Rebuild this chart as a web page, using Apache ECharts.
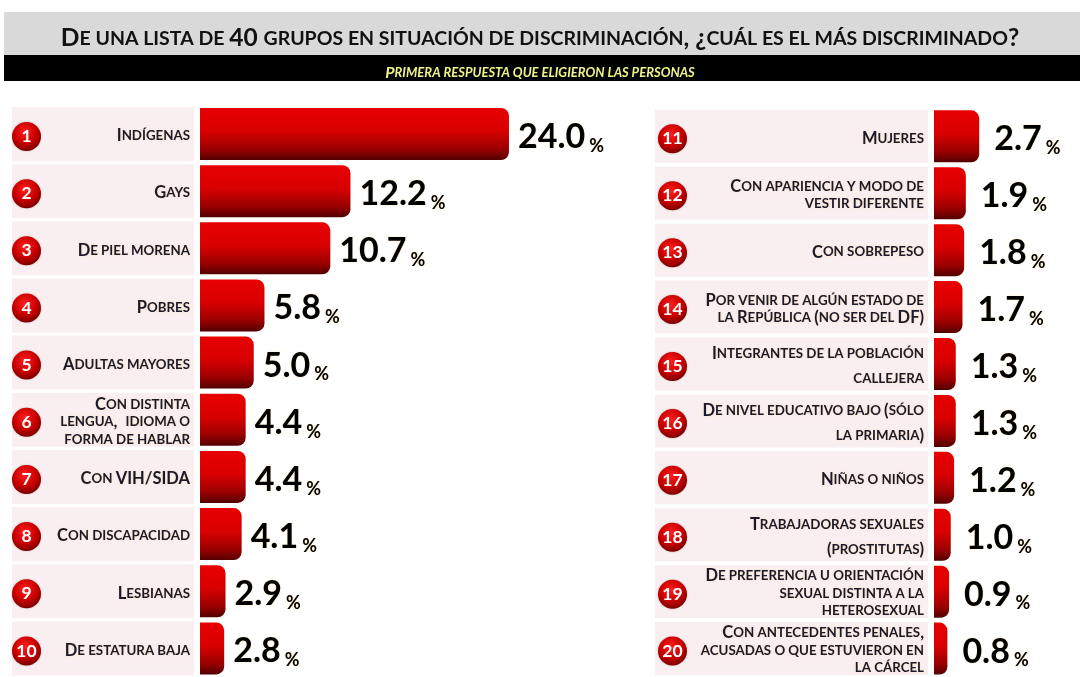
<!DOCTYPE html>
<html>
<head>
<meta charset="utf-8">
<script src="https://cdn.jsdelivr.net/npm/echarts@6/dist/echarts.min.js"></script>
<style>
html,body{margin:0;padding:0;background:#fff;}
#chart{width:1080px;height:677px;}
</style>
</head>
<body>
<div id="chart"></div>
<script>
// ---------- data ----------
const titleText = 'De una lista de 40 grupos en situación de discriminación, ¿cuál es el más discriminado?';
const subtitleText = 'Primera respuesta que eligieron las personas';

const leftRanks = ['1','2','3','4','5','6','7','8','9','10'];
const leftCats = [
  'Indígenas',
  'Gays',
  'De piel morena',
  'Pobres',
  'Adultas mayores',
  'Con distinta\nlengua,  idioma o\nforma de hablar',
  'Con VIH/SIDA',
  'Con discapacidad',
  'Lesbianas',
  'De estatura baja'
];
const leftVals = [24.0, 12.2, 10.7, 5.8, 5.0, 4.4, 4.4, 4.1, 2.9, 2.8];

const rightRanks = ['11','12','13','14','15','16','17','18','19','20'];
const rightCats = [
  'Mujeres',
  'Con apariencia y modo de\nvestir diferente',
  'Con sobrepeso',
  'Por venir de algún estado de\nla República (no ser del DF)',
  'Integrantes de la población\ncallejera',
  'De nivel educativo bajo (sólo\nla primaria)',
  'Niñas o niños',
  'Trabajadoras sexuales\n(prostitutas)',
  'De preferencia u orientación\nsexual distinta a la\nheterosexual',
  'Con antecedentes penales,\nacusadas o que estuvieron en\nla cárcel'
];
const rightVals = [2.7, 1.9, 1.8, 1.7, 1.3, 1.3, 1.2, 1.0, 0.9, 0.8];

// ---------- helpers ----------
function smallCaps(text, big, small) {
  return text.split('\n').map(function (line) {
    let out = '', cur = null, buf = '';
    for (const ch of line) {
      const isLower = ch !== ch.toUpperCase();
      let cls = isLower ? small : big;
      if (ch === ' ') cls = cur || big;
      if (cls !== cur && buf) { out += '{' + cur + '|' + buf + '}'; buf = ''; }
      cur = cls;
      buf += isLower ? ch.toUpperCase() : ch;
    }
    if (buf) out += '{' + cur + '|' + buf + '}';
    return out;
  }).join('\n');
}

const FONT = 'Lato, "Open Sans", sans-serif';
const TXT = '#1a1a2e';
const BAND = '#f9eef0';
const glow = { textShadowColor: 'rgba(255,210,120,0.55)', textShadowBlur: 2 };

const barGrad = {
  type: 'linear', x: 0, y: 0, x2: 0, y2: 1,
  colorStops: [
    { offset: 0, color: '#e80000' },
    { offset: 0.45, color: '#d80000' },
    { offset: 0.8, color: '#980000' },
    { offset: 1, color: '#520000' }
  ]
};
const badgeGrad = {
  type: 'radial', x: 0.45, y: 0.35, r: 0.75,
  colorStops: [
    { offset: 0, color: '#ff2020' },
    { offset: 0.5, color: '#cc0000' },
    { offset: 1, color: '#600000' }
  ]
};

function mkLabelRich(lh) {
  return {
    B: Object.assign({ fontSize: 16.5, fontWeight: 'bold', color: TXT, fontFamily: FONT, lineHeight: lh }, glow),
    s: Object.assign({ fontSize: 13.3, fontWeight: 'bold', color: TXT, fontFamily: FONT, lineHeight: lh }, glow),
    W: Object.assign({ fontSize: 16.5, fontWeight: 'bold', color: TXT, fontFamily: FONT, lineHeight: 25 }, glow),
    w: Object.assign({ fontSize: 13.3, fontWeight: 'bold', color: TXT, fontFamily: FONT, lineHeight: 25 }, glow)
  };
}
// rows (by index) whose two text lines are spread apart in the original
const spreadRowsRight = [4, 5, 7];

const valueRich = {
  n: Object.assign({ fontSize: 34, fontWeight: 'bold', color: '#000', fontFamily: FONT, lineHeight: 36 }, glow),
  p: Object.assign({ fontSize: 18, fontWeight: 'bold', color: '#000', fontFamily: FONT, lineHeight: 36, verticalAlign: 'bottom', padding: [0, 0, 0, 4] }, glow)
};

function badgeAxis(ranks, margin) {
  return {
    type: 'category', inverse: true, data: ranks, z: 10,
    axisLine: { show: false }, axisTick: { show: false }, splitLine: { show: false },
    axisLabel: {
      inside: true, margin: margin,
      formatter: function (v) { return '{sp| }\n{b|' + v + '}'; },
      rich: {
        sp: { fontSize: 4, lineHeight: 5, height: 5 },
        b: {
          width: 29, height: 29, borderRadius: 14.5, backgroundColor: badgeGrad,
          color: '#fff', fontSize: 17.5, fontWeight: 'bold', fontFamily: FONT, align: 'center',
          shadowColor: 'rgba(0,0,0,0.25)', shadowBlur: 2
        }
      }
    }
  };
}
function hiddenCat(ranks) {
  return { type: 'category', inverse: true, data: ranks, show: false };
}

function bandSeries(cats, xi, h, spread) {
  return {
    type: 'bar', xAxisIndex: xi, yAxisIndex: xi, silent: true,
    data: cats.map(function () { return 1; }),
    barWidth: h,
    itemStyle: { color: BAND },
    label: {
      show: true, position: 'insideRight', distance: 4, align: 'right', offset: [0, 2],
      formatter: function (p) {
        const wide = spread.indexOf(p.dataIndex) >= 0;
        return smallCaps(cats[p.dataIndex], wide ? 'W' : 'B', wide ? 'w' : 's');
      },
      rich: mkLabelRich(17.5)
    }
  };
}
function valueSeries(vals, xi, h, dist) {
  return {
    type: 'bar', xAxisIndex: xi, yAxisIndex: xi, silent: true, clip: true,
    data: vals,
    barWidth: h,
    itemStyle: { color: barGrad, borderRadius: [0, 8, 8, 0] },
    label: {
      show: true, position: 'right', distance: dist, offset: [0, 3],
      formatter: function (p) { return '{n|' + p.value.toFixed(1) + '}{p|%}'; },
      rich: valueRich
    }
  };
}

const chart = echarts.init(document.getElementById('chart'), null, { renderer: 'canvas' });
chart.setOption({
  animation: false,
  backgroundColor: '#fff',
  graphic: [
    { type: 'rect', shape: { x: 4, y: 12, width: 1076, height: 43 }, style: { fill: '#d9d9d9' }, z: -10 },
    { type: 'rect', shape: { x: 4, y: 55, width: 1076, height: 26 }, style: { fill: '#000' }, z: -10 }
  ],
  title: [
    {
      text: smallCaps(titleText, 'B', 's'), left: 'center', top: 21,
      textStyle: {
        rich: {
          B: { fontSize: 24.5, fontWeight: 'bold', color: '#111', fontFamily: FONT },
          s: { fontSize: 19.5, fontWeight: 'bold', color: '#111', fontFamily: FONT }
        }
      }
    },
    {
      text: smallCaps(subtitleText, 'B', 's'), left: 'center', top: 60,
      textStyle: {
        rich: {
          B: { fontSize: 16, fontWeight: 'bold', fontStyle: 'italic', color: '#eef28a', fontFamily: FONT },
          s: { fontSize: 13, fontWeight: 'bold', fontStyle: 'italic', color: '#eef28a', fontFamily: FONT }
        }
      }
    }
  ],
  grid: [
    { left: 12, top: 105.4, width: 182, height: 573 },
    { left: 200, top: 105.4, width: 403, height: 573 },
    { left: 655, top: 107.9, width: 273, height: 572 },
    { left: 934, top: 107.9, width: 134, height: 572 }
  ],
  xAxis: [
    { type: 'value', gridIndex: 0, min: 0, max: 1, show: false },
    { type: 'value', gridIndex: 1, min: 1, max: 31, show: false },
    { type: 'value', gridIndex: 2, min: 0, max: 1, show: false },
    { type: 'value', gridIndex: 3, min: 0, max: 8, show: false }
  ],
  yAxis: [
    Object.assign({ gridIndex: 0 }, badgeAxis(leftRanks, 0)),
    Object.assign({ gridIndex: 1 }, hiddenCat(leftRanks)),
    Object.assign({ gridIndex: 2 }, badgeAxis(rightRanks, 3)),
    Object.assign({ gridIndex: 3 }, hiddenCat(rightRanks))
  ],
  series: [
    bandSeries(leftCats, 0, 54, []),
    valueSeries(leftVals, 1, 52, 9),
    bandSeries(rightCats, 2, 53, spreadRowsRight),
    valueSeries(rightVals, 3, 52, 15)
  ]
});
</script>
</body>
</html>
